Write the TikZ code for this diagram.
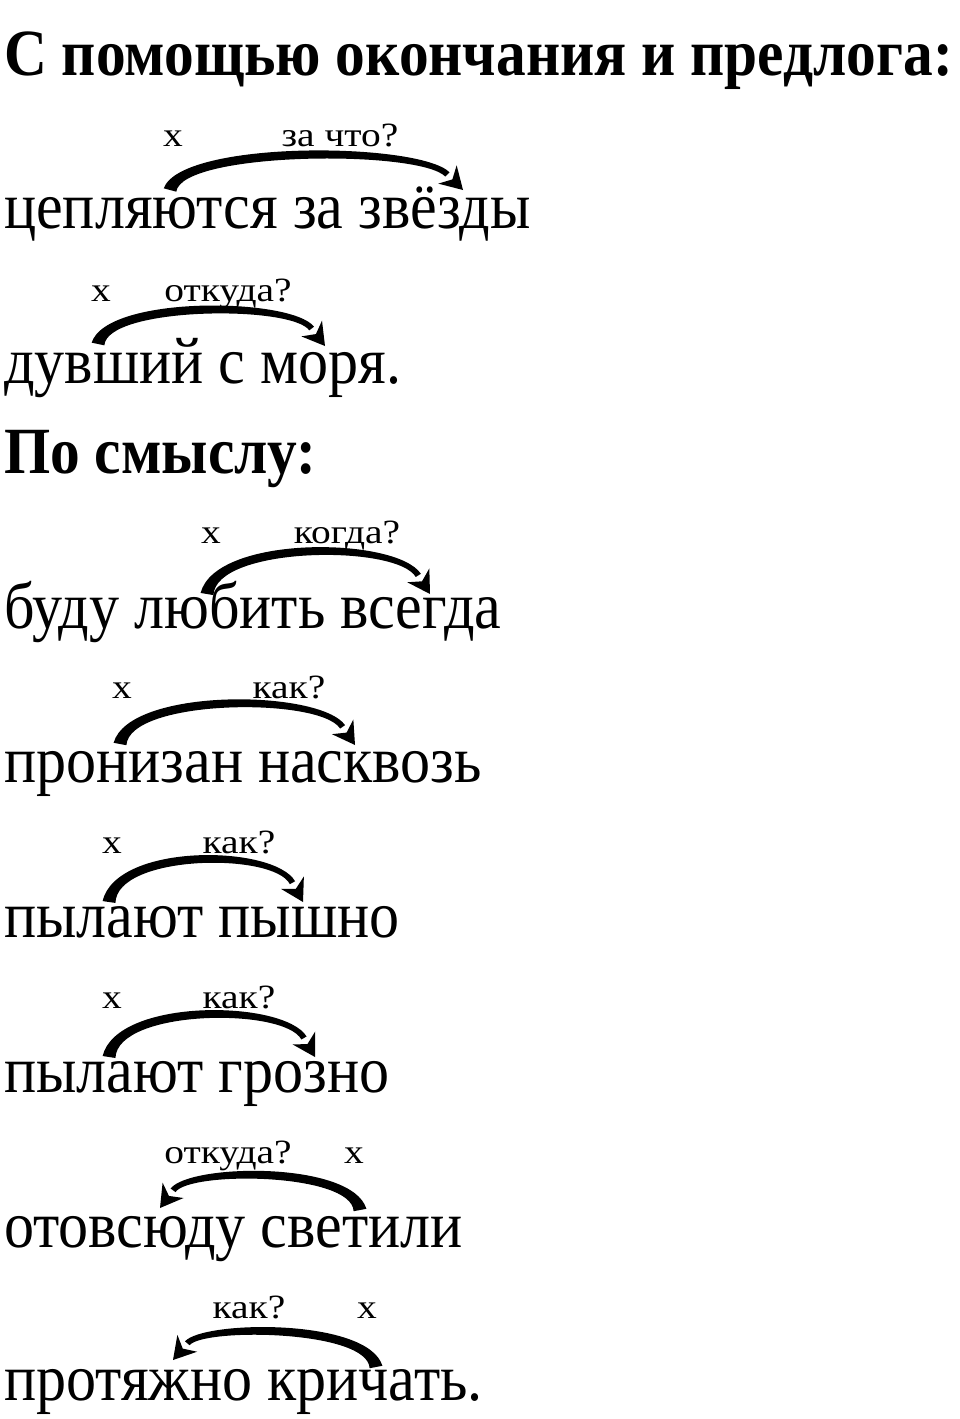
\documentclass[tikz,border=0pt]{standalone}
\usepackage{fontspec}
\usetikzlibrary{calc}
\newfontfamily\mainf{Liberation Serif}[FakeStretch=0.91]
\newfontfamily\headf{Liberation Serif}[FakeStretch=0.9]
\newfontfamily\labf{Liberation Serif}[FakeStretch=1.16]
\tikzset{
  word/.style={anchor=base west, inner sep=0pt, font=\mainf\fontsize{66}{72}\selectfont},
  head/.style={anchor=base west, inner sep=0pt, font=\headf\bfseries\fontsize{66}{72}\selectfont},
  lab/.style={anchor=base, inner sep=0pt, font=\labf\fontsize{34}{36}\selectfont},
}
% tapered arc: #1,#2 thick start; #3,#4 arrow tip; #5 height; #6 outer angle, #7 inner angle
\newcommand\tarc[7]{%
  \coordinate (A) at (#1,#2);
  \coordinate (T) at (#3,#4);
  \coordinate (C1) at ({#1+0.04*(#3-#1)},{#2-#5/0.75});
  \coordinate (C2) at ({#3-0.15*(#3-#1)},{#2-#5/0.75});
  \coordinate (Bb) at ($(T)!22pt!(C2)$);
  \fill ($(A)!6.5pt!#6:(C1)$) .. controls ($(C1)+(0,-6.5)$) and ($(C2)+(0,-4)$) .. ($(Bb)!3pt!#7:(C2)$)
     -- ($(Bb)!3pt!#6:(C2)$) .. controls ($(C2)+(0,3.5)$) and ($(C1)+(0,5.5)$) .. ($(A)!6.5pt!#7:(C1)$) -- cycle;
  \fill (T) -- ($(Bb)!13pt!90:(T)$) -- ($(Bb)!7pt!(T)$) -- ($(Bb)!13pt!-90:(T)$) -- cycle;
}
\begin{document}
\begin{tikzpicture}[x=1pt,y=-1pt]
\useasboundingbox (0,0) rectangle (960,1419);
\node[head] (h1) at (4,75) {С помощью окончания и предлога:};
% line 1
\node[word] (w1) at (4,228) {цепляются за звёзды};
\node[lab] (x1) at (173,146) {х};
\node[lab] (q1) at (340,146) {за что?};
\tarc{170}{190}{463}{190}{33}{90}{-90}
% line 2
\node[word] (w2) at (4,383) {дувший с моря.};
\node[lab] (x2) at (101,301) {х};
\node[lab] (q2) at (228,301) {откуда?};
\tarc{98}{344}{325}{346}{32}{90}{-90}
\node[head] (h2) at (4,473) {По смыслу:};
% line 3
\node[word] (w3) at (4,628) {буду любить всегда};
\node[lab] (x3) at (211,543) {х};
\node[lab] (q3) at (347,543) {когда?};
\tarc{207}{594}{430}{594}{40}{90}{-90}
% line 4
\node[word] (w4) at (4,782) {пронизан насквозь};
\node[lab] (x4) at (122,698) {х};
\node[lab] (q4) at (289,698) {как?};
\tarc{120}{744}{355}{745}{38}{90}{-90}
% line 5
\node[word] (w5) at (4,937) {пылают пышно};
\node[lab] (x5) at (112,853) {х};
\node[lab] (q5) at (239,853) {как?};
\tarc{109}{902}{303}{902}{40}{90}{-90}
% line 6
\node[word] (w6) at (4,1092) {пылают грозно};
\node[lab] (x6) at (112,1008) {х};
\node[lab] (q6) at (239,1008) {как?};
\tarc{109}{1057}{315}{1057}{40}{90}{-90}
% line 7
\node[word] (w7) at (4,1247) {отовсюду светили};
\node[lab] (q7) at (228,1163) {откуда?};
\node[lab] (x7) at (354,1163) {х};
\tarc{360}{1210}{160}{1208}{32}{-90}{90}
% line 8
\node[word] (w8) at (4,1400) {протяжно кричать.};
\node[lab] (q8) at (249,1318) {как?};
\node[lab] (x8) at (367,1318) {х};
\tarc{376}{1367}{173}{1360}{32}{-90}{90}
\end{tikzpicture}
\end{document}
